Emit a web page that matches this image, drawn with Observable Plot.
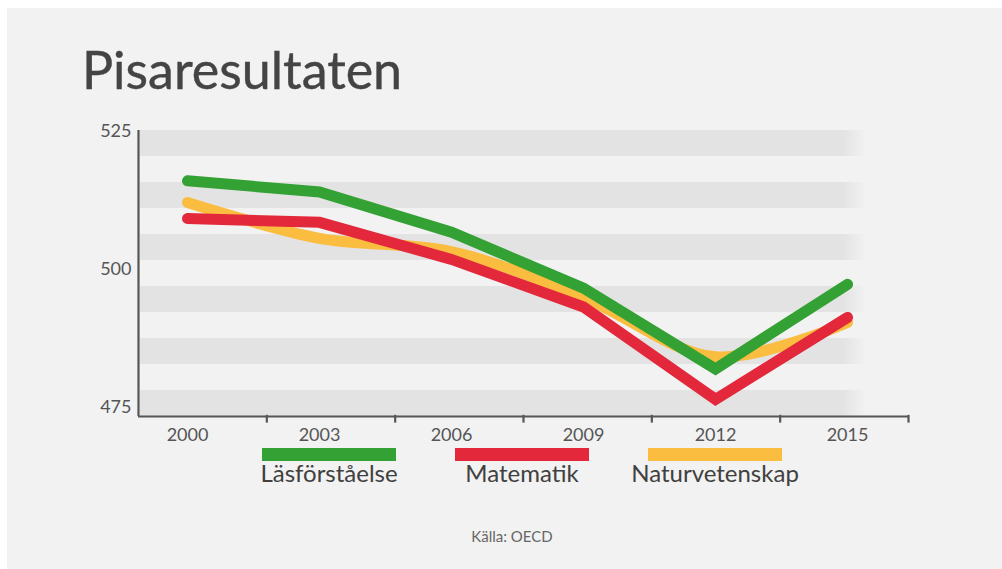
<!DOCTYPE html>
<html>
<head>
<meta charset="utf-8">
<script src="https://cdn.jsdelivr.net/npm/d3@7"></script>
<script src="https://cdn.jsdelivr.net/npm/@observablehq/plot@0.6"></script>
<style>
  html, body { margin: 0; padding: 0; background: #ffffff; }
  #page { position: relative; width: 1002px; height: 569px; overflow: hidden; font-family: Lato, "Open Sans", sans-serif; }
  #panel { position: absolute; left: 7px; top: 8px; right: 0; bottom: 0; background: #f2f2f2; }
  #title { position: absolute; left: 82px; top: 43px; font-size: 52px; line-height: 52px; color: #444444; font-weight: 400; white-space: nowrap; -webkit-text-stroke: 0.4px #444444; }
  #chart { position: absolute; left: 0; top: 0; }
  #legend { position: absolute; left: 262px; top: 448px; display: flex; gap: 59px; }
  .item { width: 134px; display: flex; flex-direction: column; align-items: center; }
  .swatch { width: 134px; height: 13px; }
  .label { font-size: 24px; line-height: 24px; color: #404040; white-space: nowrap; }
  #caption { position: absolute; left: 0; width: 1024px; top: 529px; text-align: center; font-size: 15px; line-height: 15px; color: #666666; }
</style>
</head>
<body>
<div id="page">
  <div id="panel"></div>
  <div id="title">Pisaresultaten</div>
  <div id="chart"></div>
  <div id="legend"></div>
  <div id="caption">Källa: OECD</div>
</div>
<script>
// ---- data ----
const years = [2000, 2003, 2006, 2009, 2012, 2015];
const seriesNames = ["Läsförståelse", "Matematik", "Naturvetenskap"];
const lasforstaelse = [516, 514, 506.7, 496.6, 482, 497.3];
const matematik = [509.2, 508.5, 501.8, 493.2, 476.5, 491.3];
const naturvetenskap = [512.1, 505.6, 503.2, 494.9, 484.2, 490.4];
const yTicks = [475, 500, 525];
const colors = ["#33a133", "#e2283a", "#fbbd40"];

const seriesValues = [lasforstaelse, matematik, naturvetenskap];
const rows = seriesNames.flatMap((name, s) => years.map((year, i) => ({series: name, year, value: seriesValues[s][i]})));

const xDomain = [1998.886, 2016.386];
const yDomain = [473.4, 525.1];

// decorative stripes: 11 equal bands, darker every other one from the bottom
const nBands = 11;
const bandH = (yDomain[1] - yDomain[0]) / nBands;
const stripes = d3.range(0, nBands, 2).map(k => ({y1: yDomain[0] + k * bandH, y2: yDomain[0] + (k + 1) * bandH}));
// axis tick marks: six equal divisions of the x axis
const axisTicks = d3.range(1, 7).map(k => xDomain[0] + k * (xDomain[1] - xDomain[0]) / 6);

const byName = name => rows.filter(d => d.series === name);

const plot = Plot.plot({
  width: 1002,
  height: 450,
  marginTop: 130,
  marginLeft: 138,
  marginRight: 94,
  marginBottom: 34,
  style: {background: "transparent", fontFamily: "Lato, sans-serif", fontSize: "18px", color: "#555555", overflow: "visible"},
  x: {domain: xDomain, axis: null, label: null},
  y: {domain: yDomain, axis: null, label: null},
  marks: [
    Plot.rect(stripes, {x1: xDomain[0], x2: xDomain[1], y1: "y1", y2: "y2", fill: "url(#stripeFade)", insetLeft: 2}),
    Plot.line(byName("Naturvetenskap"), {x: "year", y: "value", stroke: colors[2], strokeWidth: 11, curve: "catmull-rom", strokeLinejoin: "round"}),
    Plot.line(byName("Matematik"), {x: "year", y: "value", stroke: colors[1], strokeWidth: 11, strokeLinejoin: "miter", strokeMiterlimit: 10}),
    Plot.line(byName("Läsförståelse"), {x: "year", y: "value", stroke: colors[0], strokeWidth: 11, strokeLinejoin: "miter", strokeMiterlimit: 10}),
    Plot.ruleY([yDomain[0]], {stroke: "#555555", strokeWidth: 2.2}),
    Plot.ruleX([xDomain[0]], {stroke: "#555555", strokeWidth: 2.2}),
    Plot.link(axisTicks, {x1: d => d, x2: d => d, y1: yDomain[0] + 0.3, y2: yDomain[0] - 1.1, stroke: "#555555", strokeWidth: 2.2}),
    Plot.axisX({ticks: years, tickSize: 0, tickPadding: 12, tickFormat: d => String(d), fontSize: 18, fill: "#555555", label: null}),
    Plot.axisY({ticks: yTicks, tickSize: 0, tickPadding: 7, tickFormat: d => String(d), fontSize: 18, fill: "#555555", label: null})
  ]
});

// gradient so the stripes fade out on the right
const defs = d3.select(plot).insert("defs", ":first-child");
const grad = defs.append("linearGradient").attr("id", "stripeFade").attr("x1", "0").attr("x2", "1").attr("y1", "0").attr("y2", "0");
grad.append("stop").attr("offset", "0").attr("stop-color", "#e3e3e3");
grad.append("stop").attr("offset", "0.915").attr("stop-color", "#e3e3e3");
grad.append("stop").attr("offset", "0.945").attr("stop-color", "#f2f2f2");
grad.append("stop").attr("offset", "1").attr("stop-color", "#f2f2f2");

document.getElementById("chart").appendChild(plot);

// legend
const legend = d3.select("#legend");
seriesNames.forEach((name, i) => {
  const item = legend.append("div").attr("class", "item");
  item.append("div").attr("class", "swatch").style("background", colors[i]);
  item.append("div").attr("class", "label").text(name);
});
</script>
</body>
</html>
